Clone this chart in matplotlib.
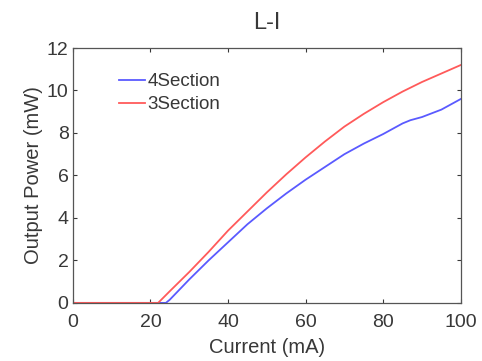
import matplotlib
matplotlib.use('Agg')
import matplotlib.pyplot as plt

plt.rcParams['font.family'] = ['Liberation Sans', 'DejaVu Sans']

# current (mA) and output power (mW)
cur_4 = [0, 5, 10, 15, 20, 24, 25, 30, 35, 40, 45, 50, 55, 60, 65, 70, 75, 80, 85, 87, 90, 95, 100]
pow_4 = [0, 0, 0, 0, 0, 0, 0.15, 1.1, 2.0, 2.85, 3.7, 4.45, 5.15, 5.8, 6.4, 7.0, 7.5, 7.95, 8.45, 8.6, 8.75, 9.1, 9.6]
cur_3 = [0, 5, 10, 15, 20, 22, 25, 30, 35, 40, 45, 50, 55, 60, 65, 70, 75, 80, 85, 90, 95, 100]
pow_3 = [0, 0, 0, 0, 0, 0, 0.55, 1.45, 2.4, 3.4, 4.3, 5.2, 6.05, 6.85, 7.6, 8.3, 8.9, 9.45, 9.95, 10.4, 10.8, 11.2]

TXT = '#383838'
fig = plt.figure(figsize=(4.82, 3.61), dpi=100)
ax = fig.add_axes([0.151, 0.161, 0.805, 0.706])
ax.plot(cur_4, pow_4, color='#5a5aff', lw=1.3, label='4Section')
ax.plot(cur_3, pow_3, color='#ff5a5a', lw=1.3, label='3Section')
ax.set_xlim(0, 100); ax.set_ylim(0, 12)
ax.set_xticks(range(0, 101, 20)); ax.set_yticks(range(0, 13, 2))
ax.tick_params(direction='in', top=True, right=True, labelsize=14, colors=TXT, length=3, pad=3)
ax.tick_params(axis='x', pad=8)
for s in ax.spines.values():
    s.set_color('#555555'); s.set_linewidth(0.9)
ax.set_xlabel('Current (mA)', fontsize=14.5, color=TXT, labelpad=5)
ax.set_ylabel('Output Power (mW)', fontsize=14.5, color=TXT, labelpad=3)
ax.set_title('L-I', fontsize=17, color=TXT, pad=14)
leg = ax.legend(loc='upper left', bbox_to_anchor=(0.1, 0.93), frameon=False,
                fontsize=13.5, handlelength=1.4, handletextpad=0.1, labelspacing=0.3,
                borderaxespad=0)
for t in leg.get_texts():
    t.set_color(TXT)
fig.savefig('out.png', dpi=100)
